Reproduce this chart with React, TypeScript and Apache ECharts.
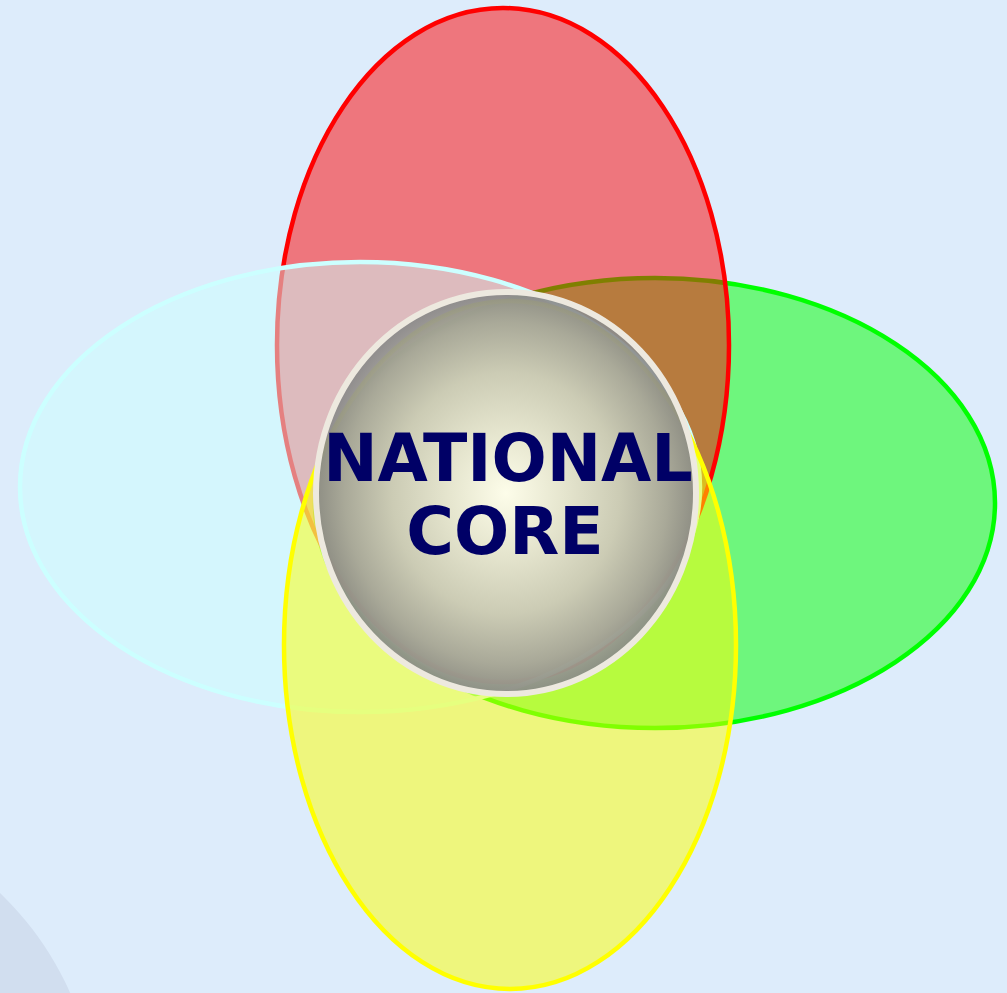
import React, { useEffect, useRef } from "react";
import * as echarts from "echarts";

// Venn-style petals: [centerX, centerY, radiusX, radiusY] in page units (drawn in this order)
const petalNames = ["Green", "Red", "Cyan", "Yellow"];
const petalValues: number[][] = [
  [655, 503, 342, 227],
  [503, 345, 228, 339],
  [360, 487, 342, 227],
  [510, 645, 228, 346],
];
const petalColors = ["#00ff00", "#ff0000", "#ccffff", "#ffff00"];

// core: [centerX, centerY, radiusX, radiusY]
const coreValue = [506, 493, 193, 204];
const coreLines = ["NATIONAL", "CORE"];

// decorative corner disc: [centerX, centerY, radius]
const cornerDisc = [-217, 1120, 314];

function hexToRgba(hex: string, a: number) {
  const n = parseInt(hex.slice(1), 16);
  return `rgba(${(n >> 16) & 255},${(n >> 8) & 255},${n & 255},${a})`;
}

export default function App() {
  const ref = useRef<HTMLDivElement>(null);
  useEffect(() => {
    if (!ref.current) return;
    const chart = echarts.init(ref.current, null, { renderer: "svg" });
    chart.setOption({
      animation: false,
      backgroundColor: "#ddecfb",
      grid: { left: 0, right: 0, top: 0, bottom: 0 },
      xAxis: { type: "value", min: 0, max: 1007, show: false },
      yAxis: { type: "value", min: 0, max: 993, inverse: true, show: false },
      series: [
        {
          type: "custom",
          name: "corner",
          silent: true,
          data: [cornerDisc],
          renderItem: (params: any, api: any) => {
            const c = api.coord([api.value(0), api.value(1)]);
            const s = api.size([api.value(2), api.value(2)]);
            return {
              type: "circle",
              shape: { cx: c[0], cy: c[1], r: s[0] },
              style: { fill: "#d1deef" },
            };
          },
        },
        {
          type: "custom",
          name: "petals",
          silent: true,
          data: petalValues.map((v, i) => ({ name: petalNames[i], value: v })),
          renderItem: (params: any, api: any) => {
            const c = api.coord([api.value(0), api.value(1)]);
            const s = api.size([api.value(2), api.value(3)]);
            const col = petalColors[params.dataIndex];
            return {
              type: "ellipse",
              shape: { cx: c[0], cy: c[1], rx: s[0] - 2, ry: s[1] - 2 },
              style: {
                fill: hexToRgba(col, 0.5),
                stroke: col,
                lineWidth: 4.5,
              },
            };
          },
        },
        {
          type: "custom",
          name: "core",
          silent: true,
          data: [coreValue],
          renderItem: (params: any, api: any) => {
            const c = api.coord([api.value(0), api.value(1)]);
            const s = api.size([api.value(2), api.value(3)]);
            return {
              type: "group",
              children: [
                {
                  type: "ellipse",
                  shape: { cx: c[0], cy: c[1], rx: s[0] - 3, ry: s[1] - 3 },
                  style: {
                    fill: new echarts.graphic.RadialGradient(0.5, 0.5, 0.5, [
                      { offset: 0, color: "rgba(255,255,245,0.93)" },
                      { offset: 0.3, color: "rgba(230,230,216,0.93)" },
                      { offset: 0.6, color: "rgba(202,202,188,0.93)" },
                      { offset: 0.85, color: "rgba(165,165,158,0.93)" },
                      { offset: 1, color: "rgba(136,136,136,0.93)" },
                    ]),
                    stroke: "#ede9df",
                    lineWidth: 6,
                  },
                },
                {
                  type: "text",
                  x: c[0] + 2,
                  y: c[1] - 35,
                  style: {
                    text: coreLines[0],
                    fill: "#000066",
                    font: "bold 65px 'DejaVu Sans'",
                    align: "center",
                    verticalAlign: "middle",
                  },
                },
                {
                  type: "text",
                  x: c[0] - 1,
                  y: c[1] + 38,
                  style: {
                    text: coreLines[1],
                    fill: "#000066",
                    font: "bold 65px 'DejaVu Sans'",
                    align: "center",
                    verticalAlign: "middle",
                  },
                },
              ],
            };
          },
        },
      ],
    });
    return () => chart.dispose();
  }, []);
  return (
    <div
      ref={ref}
      style={{ position: "fixed", left: 0, top: 0, width: 1007, height: 993 }}
    />
  );
}
